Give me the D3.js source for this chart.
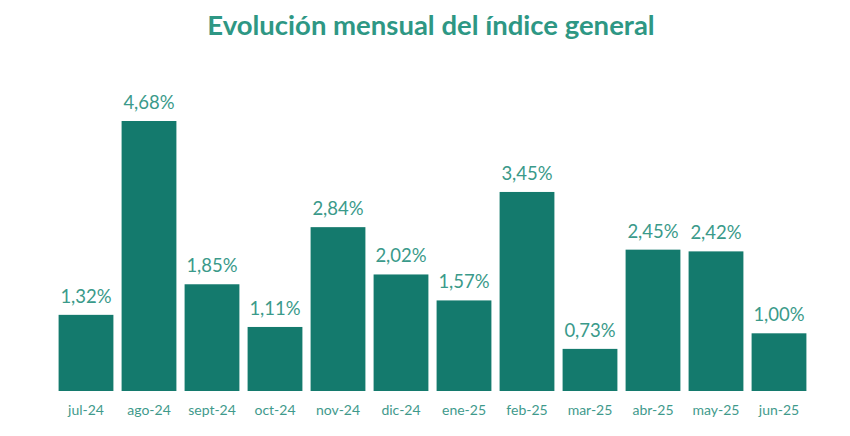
<!DOCTYPE html>
<html>
<head>
<meta charset="utf-8">
<script src="https://cdn.jsdelivr.net/npm/d3@7"></script>
<style>
  body { margin: 0; background: #fff; }
  svg { font-family: Lato, "Open Sans", sans-serif; }
</style>
</head>
<body>
<svg id="chart" width="850" height="436"></svg>
<script>
// monthly values
const months = ["jul-24", "ago-24", "sept-24", "oct-24", "nov-24", "dic-24", "ene-25", "feb-25", "mar-25", "abr-25", "may-25", "jun-25"];
const values = [1.32, 4.68, 1.85, 1.11, 2.84, 2.02, 1.57, 3.45, 0.73, 2.45, 2.42, 1.00];

const svg = d3.select("#chart");

const x = d3.scaleBand()
    .domain(months)
    .range([54.5, 810.5])
    .paddingInner(0.13)
    .paddingOuter(0.065);

const y = d3.scaleLinear()
    .domain([0, 4.68])
    .range([391, 121]);

const fmt = d => d.toFixed(2).replace(".", ",") + "%";

svg.append("text")
    .attr("x", 431)
    .attr("y", 35)
    .attr("text-anchor", "middle")
    .attr("fill", "#2e9784")
    .attr("font-size", 27.5)
    .attr("font-weight", "bold")
    .text("Evolución mensual del índice general");

svg.selectAll("rect.bar")
    .data(values)
    .join("rect")
    .attr("class", "bar")
    .attr("x", (d, i) => x(months[i]))
    .attr("y", d => y(d))
    .attr("width", x.bandwidth())
    .attr("height", d => y(0) - y(d))
    .attr("fill", "#147a6d");

svg.selectAll("text.val")
    .data(values)
    .join("text")
    .attr("class", "val")
    .attr("x", (d, i) => x(months[i]) + x.bandwidth() / 2)
    .attr("y", d => y(d) - 12)
    .attr("text-anchor", "middle")
    .attr("fill", "#3a9a8a")
    .attr("font-size", 18.5)
    .text(d => fmt(d));

// category axis
const axis = svg.append("g")
    .attr("transform", "translate(0,391)")
    .call(d3.axisBottom(x).tickSize(0).tickPadding(14));
axis.select(".domain").remove();
axis.selectAll("text")
    .attr("fill", "#3f9a8c")
    .attr("font-size", 14)
    .attr("font-family", "Lato, sans-serif");
</script>
</body>
</html>
